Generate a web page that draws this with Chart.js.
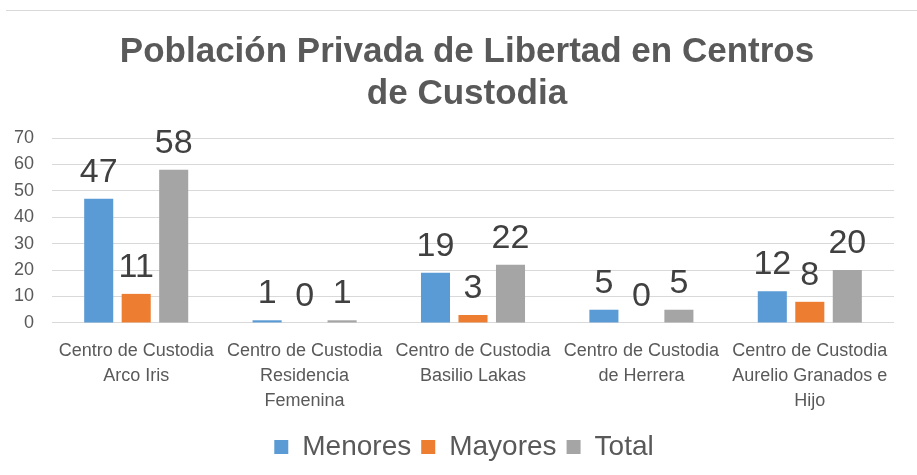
<!DOCTYPE html>
<html>
<head>
<meta charset="utf-8">
<script src="https://cdn.jsdelivr.net/npm/chart.js@4.4.1/dist/chart.umd.min.js"></script>
<style>
  body { margin: 0; background: #fff; }
  #wrap { position: relative; width: 917px; height: 475px; }
  #topline { position: absolute; left: 6px; right: 0; top: 10px; height: 1px; background: #d9d9d9; }
</style>
</head>
<body>
<div id="wrap">
  <div id="topline"></div>
  <canvas id="chart"></canvas>
</div>
<script>
// Datos del gráfico
const categories = [
  ['Centro de Custodia', 'Arco Iris'],
  ['Centro de Custodia', 'Residencia', 'Femenina'],
  ['Centro de Custodia', 'Basilio Lakas'],
  ['Centro de Custodia', 'de Herrera'],
  ['Centro de Custodia', 'Aurelio Granados e', 'Hijo']
];
const menores = [47, 1, 19, 5, 12];
const mayores = [11, 0, 3, 0, 8];
const total = [58, 1, 22, 5, 20];
const yTicks = [0, 10, 20, 30, 40, 50, 60, 70];

const textGray = '#595959';
const fontFam = '"Liberation Sans", Arial, sans-serif';

// dibuja el valor encima de cada barra
const barLabels = {
  id: 'barLabels',
  afterDatasetsDraw(chart) {
    const ctx = chart.ctx;
    ctx.save();
    ctx.font = '34px ' + fontFam;
    ctx.fillStyle = '#404040';
    ctx.textAlign = 'center';
    ctx.textBaseline = 'alphabetic';
    chart.data.datasets.forEach((ds, i) => {
      chart.getDatasetMeta(i).data.forEach((bar, j) => {
        ctx.fillText(String(ds.data[j]), bar.x, bar.y - 17);
      });
    });
    ctx.restore();
  }
};

// título y leyenda centrados sobre todo el lienzo, no sobre el área con padding
const recenter = {
  id: 'recenter',
  afterLayout(chart) {
    if (chart.titleBlock) { chart.titleBlock.left += 13; chart.titleBlock.right += 13; }
    if (chart.legend) { chart.legend.left += 10; chart.legend.right += 10; }
  }
};

new Chart(document.getElementById('chart'), {
  type: 'bar',
  data: {
    labels: categories,
    datasets: [
      { label: 'Menores', data: menores, backgroundColor: '#5b9bd5' },
      { label: 'Mayores', data: mayores, backgroundColor: '#ed7d31' },
      { label: 'Total', data: total, backgroundColor: '#a5a5a5' }
    ]
  },
  options: {
    responsive: true,
    maintainAspectRatio: false,
    animation: false,
    datasets: { bar: { categoryPercentage: 0.668, barPercentage: 0.775 } },
    layout: { padding: { left: 14, right: 23, top: 14, bottom: 4 } },
    plugins: {
      title: {
        display: true,
        text: ['Población Privada de Libertad en Centros', 'de Custodia'],
        color: textGray,
        font: { family: fontFam, size: 35, weight: 'bold', lineHeight: 1.2 },
        padding: { top: 17, bottom: 23 }
      },
      legend: {
        position: 'bottom',
        labels: {
          color: textGray,
          font: { family: fontFam, size: 28 },
          boxWidth: 14, boxHeight: 14, padding: 10
        }
      },
      tooltip: { enabled: false }
    },
    scales: {
      x: {
        grid: { display: false, drawTicks: false },
        border: { display: false },
        afterFit: axis => { axis.paddingLeft = 0; axis.paddingRight = 0; axis.height -= 7; },
        ticks: {
          color: textGray,
          font: { family: fontFam, size: 18, lineHeight: 1.39 },
          maxRotation: 0, autoSkip: false, padding: 16
        }
      },
      y: {
        min: 0, max: 70,
        afterBuildTicks: axis => { axis.ticks = yTicks.map(v => ({ value: v })); },
        afterFit: axis => { axis.width = 38; },
        grid: { color: '#d9d9d9', drawTicks: false },
        border: { display: false },
        ticks: {
          color: textGray,
          font: { family: fontFam, size: 18 },
          padding: 18
        }
      }
    }
  },
  plugins: [barLabels, recenter]
});
</script>
</body>
</html>
